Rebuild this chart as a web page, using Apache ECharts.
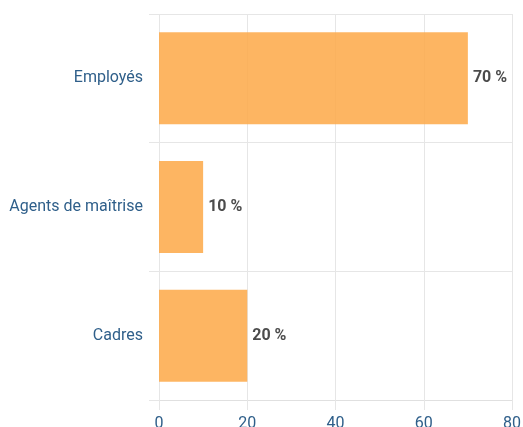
<!DOCTYPE html>
<html><head><meta charset="utf-8">
<script src="https://cdn.jsdelivr.net/npm/echarts@6/dist/echarts.min.js"></script>
<style>html,body{margin:0;padding:0;background:#fff}#c{width:523px;height:427px}</style>
</head><body><div id="c"></div>
<script>
const categories = ['Cadres', 'Agents de maîtrise', 'Employés'];
const values = [20, 10, 70];
const xTicks = [0, 20, 40, 60, 80];

const FONT = 'Roboto, sans-serif';
const chart = echarts.init(document.getElementById('c'), null, {renderer: 'canvas'});
chart.setOption({
  animation: false,
  grid: {left: 159, right: 11, top: 14, bottom: 27, containLabel: false, outerBoundsMode: 'none'},
  xAxis: {
    type: 'value', min: xTicks[0], max: xTicks[xTicks.length - 1], interval: 20,
    axisLine: {show: true, lineStyle: {color: '#e0e0e0'}},
    axisTick: {show: true, length: 10, lineStyle: {color: '#e6e6e6'}},
    splitLine: {show: true, lineStyle: {color: '#e6e6e6'}},
    axisLabel: {color: '#2f5f8a', fontSize: 16, margin: 16, fontFamily: FONT}
  },
  yAxis: {
    type: 'category', data: categories,
    axisLine: {show: false},
    axisTick: {show: true, length: 10, lineStyle: {color: '#e6e6e6'}},
    splitLine: {show: true, lineStyle: {color: '#e6e6e6'}},
    axisLabel: {color: '#2f5f8a', fontSize: 16, margin: 16, fontFamily: FONT, padding: [4, 0, 0, 0]}
  },
  series: [{
    type: 'bar', data: values, barCategoryGap: '28.5%',
    itemStyle: {color: '#fda847', opacity: 0.85},
    label: {
      show: true, position: 'right', distance: 5, formatter: '{c} %',
      color: '#2b2b2b', fontWeight: 'bold', fontSize: 16,
      fontFamily: FONT, padding: [4, 0, 0, 0],
      textBorderColor: '#fff', textBorderWidth: 2
    }
  }]
});
</script></body></html>
